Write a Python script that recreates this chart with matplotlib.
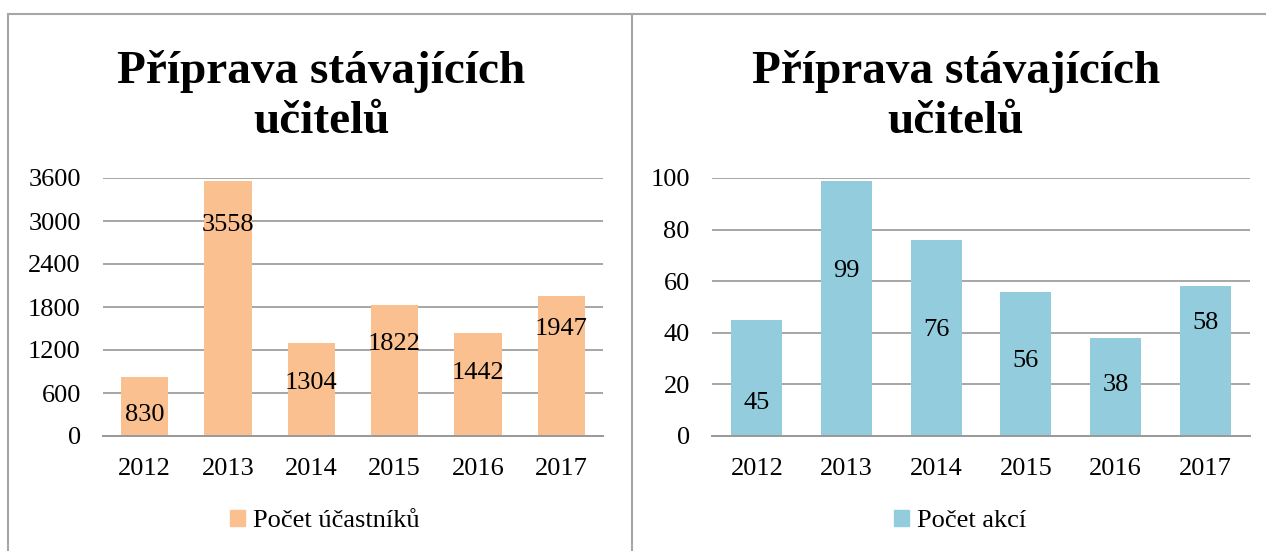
import matplotlib
matplotlib.use('Agg')
import matplotlib.pyplot as plt
from matplotlib.lines import Line2D
from matplotlib.patches import Patch

# data
years = ['2012', '2013', '2014', '2015', '2016', '2017']
ucastnici = [830, 3558, 1304, 1822, 1442, 1947]
akce = [45, 99, 76, 56, 38, 58]

title = 'Příprava stávajících\nučitelů'
legend_left = 'Počet účastníků'
legend_right = 'Počet akcí'

# how far below the bar top each value label sits (pixels, to baseline)
off_left = [44, 50, 46, 45, 46, 39]
off_right = [89, 96, 96, 75, 53, 43]

orange = '#FAC090'
blue = '#93CDDD'
grid_col = '#A6A6A6'

plt.rcParams['font.family'] = ['Liberation Serif', 'DejaVu Serif']
W, H = 1266, 551
dpi = 100
fig = plt.figure(figsize=(W / dpi, H / dpi), dpi=dpi)


def px(x0, y0, x1, y1):
    # pixel box (top-left origin) -> figure fraction rect
    return [x0 / W, 1 - y1 / H, (x1 - x0) / W, (y1 - y0) / H]


def panel(rect, vals, ymax, step, color, offs, leg, title_x, leg_x):
    ax = fig.add_axes(rect)
    x = range(len(years))
    bars = ax.bar(x, vals, width=0.57, color=color, zorder=2)
    ax.set_xlim(-0.5, len(years) - 0.5)
    ax.set_ylim(0, ymax)
    ax.set_yticks(range(0, ymax + 1, step))
    ax.set_xticks(list(x))
    ax.set_xticklabels(years)
    ax.tick_params(length=0, labelsize=19, pad=16)
    ax.yaxis.grid(True, color=grid_col, linewidth=1.4, zorder=0)
    for s in ['top', 'right', 'left']:
        ax.spines[s].set_visible(False)
    ax.spines['bottom'].set_color('#999999')
    ax.spines['bottom'].set_linewidth(1.4)
    ax.spines['bottom'].set_zorder(3)
    for b, v, o in zip(bars, vals, offs):
        ax.annotate(str(v), (b.get_x() + b.get_width() / 2, v),
                    xytext=(0, -o * 72 / dpi), textcoords='offset points',
                    ha='center', va='baseline', fontsize=19, zorder=4)
    # baseline of the last title line
    fig.text(title_x, 1 - 133 / H, title, ha='center', va='baseline',
             fontsize=34, fontweight='bold', linespacing=1.26)
    fig.legend(handles=[Patch(color=color, label=leg)], loc='center',
               bbox_to_anchor=(leg_x, 1 - 521 / H), frameon=False,
               fontsize=19, handlelength=0.55, handleheight=0.55,
               handletextpad=0.3)
    return ax


panel(px(103, 178, 603, 436), ucastnici, 3600, 600, orange, off_left,
      legend_left, 321 / W, 325 / W)
panel(px(712, 178, 1250, 436), akce, 100, 20, blue, off_right,
      legend_right, 956 / W, 960 / W)

# panel borders
bc = '#A6A6A6'
fig.add_artist(Line2D([8 / W, 1], [1 - 14 / H] * 2, color=bc, lw=1.5))
for xb in [8, 632]:
    fig.add_artist(Line2D([xb / W] * 2, [0, 1 - 14 / H], color=bc, lw=1.5))

fig.savefig('out.png', dpi=dpi)
